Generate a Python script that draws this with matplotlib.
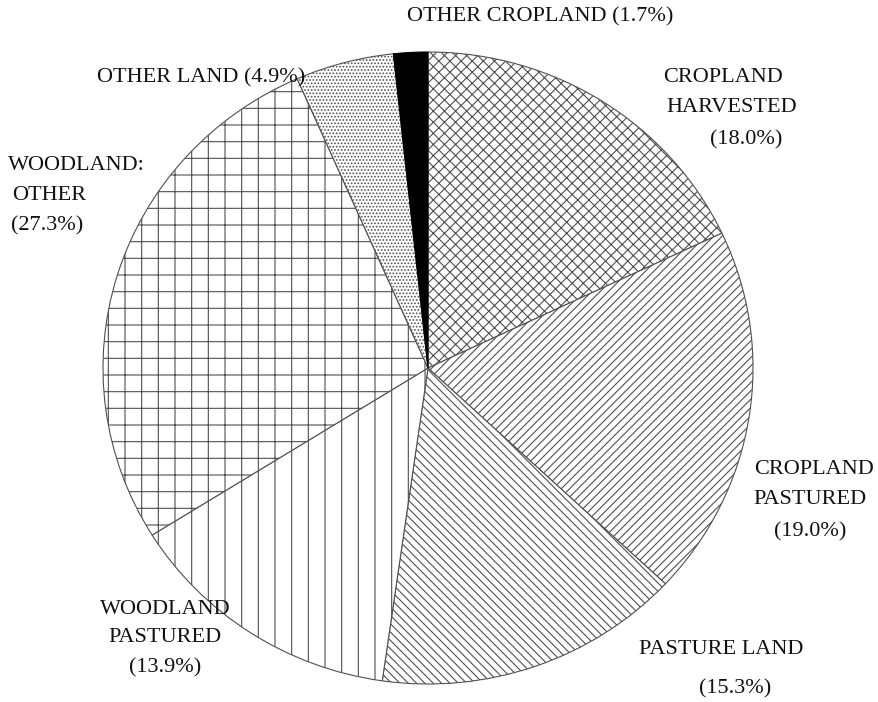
import matplotlib
matplotlib.use("Agg")
import matplotlib.pyplot as plt

# land use shares, clockwise from 12 o'clock
categories = [
    "CROPLAND HARVESTED",
    "CROPLAND PASTURED",
    "PASTURE LAND",
    "WOODLAND PASTURED",
    "WOODLAND: OTHER",
    "OTHER LAND",
    "OTHER CROPLAND",
]
shares = [18.0, 19.0, 15.3, 13.9, 27.3, 4.9, 1.7]
hatches = ["xxx", "////", "\\\\\\\\", "|", "+", ".....", None]
faces = ["white", "white", "white", "white", "white", "white", "black"]

plt.rcParams["font.family"] = ["Liberation Serif", "DejaVu Serif"]
plt.rcParams["hatch.color"] = "#505050"
plt.rcParams["hatch.linewidth"] = 0.8

W, H = 879, 702
fig = plt.figure(figsize=(W / 100, H / 100), dpi=100)

# pie centre (428, 368) px, radii 325 x 316 px
cx, cy, rx, ry = 428, 368, 325, 316
ax = fig.add_axes([(cx - rx) / W, (H - cy - ry) / H, 2 * rx / W, 2 * ry / H])

wedges, _ = ax.pie(
    shares,
    startangle=90,
    counterclock=False,
    colors=faces,
    wedgeprops=dict(edgecolor="#505050", linewidth=0.8),
)
for w, h in zip(wedges, hatches):
    if h:
        w.set_hatch(h)
wedges[-1].set_edgecolor("black")

ax.set_aspect("auto")
ax.set_xlim(-1, 1)
ax.set_ylim(-1, 1)
ax.axis("off")


def put(x, y, s, ha="center"):
    fig.text(x / W, 1 - y / H, s, ha=ha, va="center", fontsize=16, color="#111111")


pct = [f"({v:.1f}%)" for v in shares]

put(540, 17, f"OTHER CROPLAND {pct[6]}")
put(723, 78, "CROPLAND")
put(732, 107, "HARVESTED")
put(746, 140, pct[0])
put(814, 470, "CROPLAND")
put(810, 500, "PASTURED")
put(810, 532, pct[1])
put(721, 649, "PASTURE LAND")
put(735, 689, pct[2])
put(165, 609, "WOODLAND")
put(165, 638, "PASTURED")
put(165, 668, pct[3])
put(8, 165, "WOODLAND:", ha="left")
put(12, 195, "OTHER", ha="left")
put(11, 226, pct[4], ha="left")
put(201, 78, f"OTHER LAND {pct[5]}")

fig.savefig("out.png", dpi=100)
